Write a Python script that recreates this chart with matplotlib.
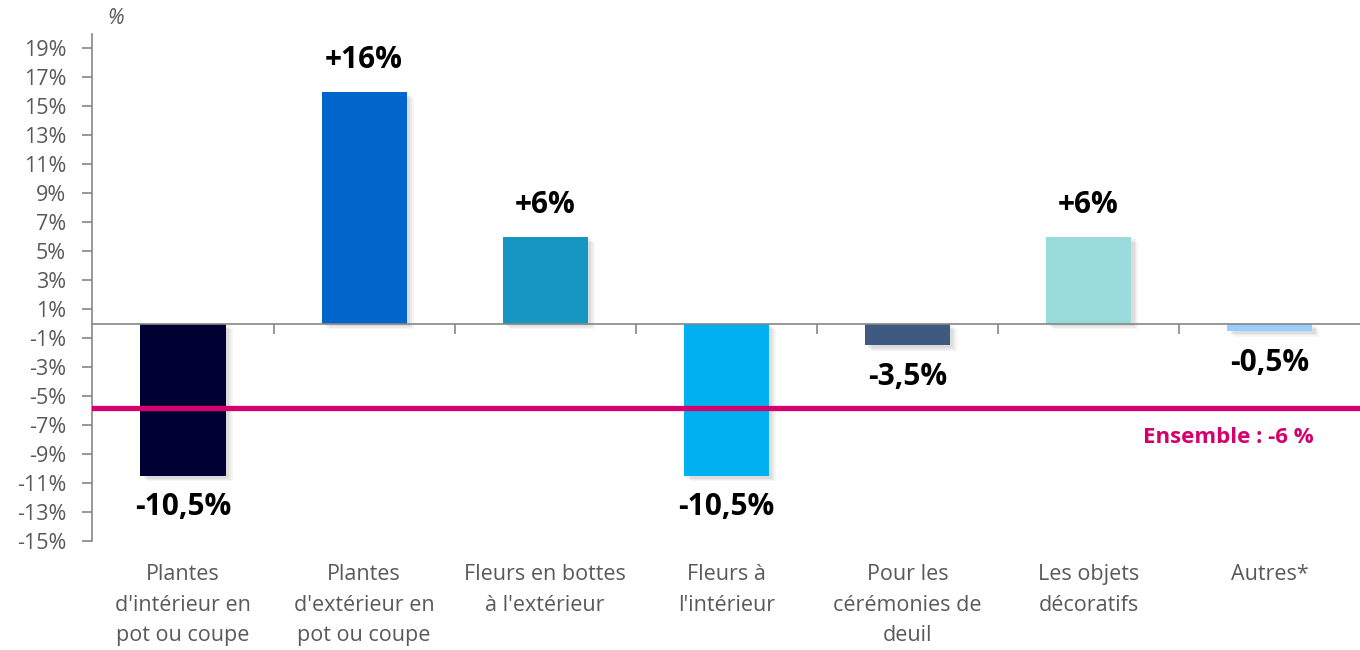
import matplotlib
matplotlib.use('Agg')
import matplotlib.pyplot as plt
import numpy as np

categories = [
    "Plantes\nd'intérieur en\npot ou coupe",
    "Plantes\nd'extérieur en\npot ou coupe",
    "Fleurs en bottes\nà l'extérieur",
    "Fleurs à\nl'intérieur",
    "Pour les\ncérémonies de\ndeuil",
    "Les objets\ndécoratifs",
    "Autres*",
]
values = [-10.5, 16, 6, -10.5, -1.5, 6, -0.5]
value_labels = ["-10,5%", "+16%", "+6%", "-10,5%", "-3,5%", "+6%", "-0,5%"]
colors = ["#000033", "#0066CC", "#1597C1", "#00B0F0", "#3F5A80", "#99DBDB", "#99CCFF"]
ensemble = -5.8
ensemble_label = "Ensemble : -6 %"
yticks = list(range(-15, 20, 2))

plt.rcParams['font.family'] = ['Open Sans', 'DejaVu Sans']
GREY = "#595959"
MAGENTA = "#D5006D"

fig = plt.figure(figsize=(13.6, 6.5), dpi=100)
ax = fig.add_axes([0.068, 0.168, 0.932, 0.78])

x = np.arange(len(categories))
width = 0.47

# ombre portée sous les barres (quelques couches décalées)
for dx, dy, a in [(0.04, 0.4, 0.07), (0.03, 0.3, 0.09), (0.02, 0.2, 0.12)]:
    ax.bar(x + dx, values, width, bottom=-dy, color="#7F7F7F", alpha=a,
           zorder=1, linewidth=0)
ax.bar(x, values, width, color=colors, zorder=2, linewidth=0)

for xi, v, lab in zip(x, values, value_labels):
    y = v + 2.2 if v >= 0 else v - 2.2
    ax.text(xi, y, lab, ha="center", va="center", fontsize=21.5,
            fontweight="bold", color="black")

ax.axhline(ensemble, color=MAGENTA, lw=3.8, zorder=3)
ax.text(6.245, -7.9, ensemble_label, ha="right", va="center", fontsize=16,
        fontweight="bold", color=MAGENTA)

ax.set_xlim(-0.5, len(categories) - 0.5)
ax.set_ylim(-15, 20)
ax.set_yticks(yticks)
ax.set_yticklabels([f"{t}%" for t in yticks], color=GREY, fontsize=15.5)
ax.tick_params(axis="y", length=7, color="#868686", width=1.2, direction="out", pad=12)

ax.spines["top"].set_visible(False)
ax.spines["right"].set_visible(False)
ax.spines["left"].set_color("#868686")
ax.spines["left"].set_linewidth(1.2)
ax.spines["bottom"].set_position(("data", 0))
ax.spines["bottom"].set_color("#868686")
ax.spines["bottom"].set_linewidth(1.2)
ax.spines["bottom"].set_zorder(4)
ax.set_xticks(np.arange(0.5, len(categories) - 0.5, 1))
ax.set_xticklabels([])
ax.tick_params(axis="x", length=7, color="#868686", width=1.2, direction="out")

for xi, cat in zip(x, categories):
    ax.text(xi, -16.6, cat, ha="center", va="top", fontsize=15.5, color=GREY,
            linespacing=1.6, clip_on=False)

ax.text(0.012, 1.01, "%", transform=ax.transAxes, fontsize=15, color=GREY,
        style="italic", ha="left", va="bottom")

fig.savefig("out.png", dpi=100)
